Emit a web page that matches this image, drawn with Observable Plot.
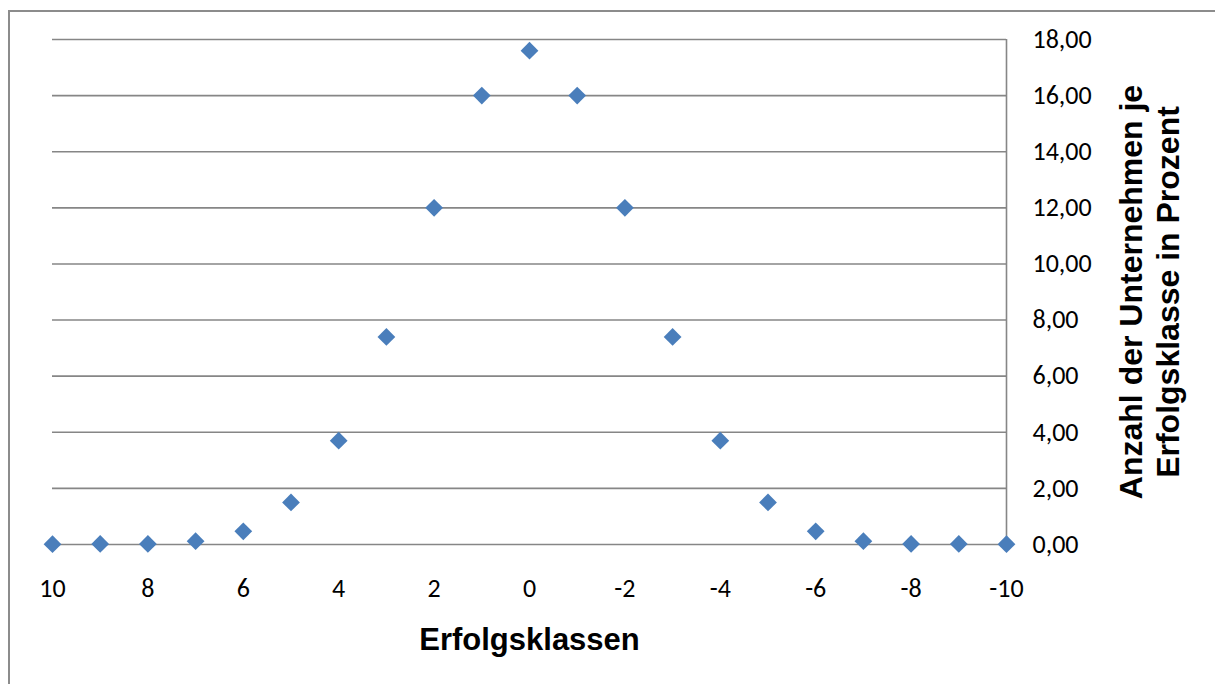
<!DOCTYPE html>
<html>
<head>
<meta charset="utf-8">
<script src="https://cdn.jsdelivr.net/npm/d3@7"></script>
<script src="https://cdn.jsdelivr.net/npm/@observablehq/plot@0.6"></script>
<style>
  html, body { margin: 0; padding: 0; background: #fff; }
  #wrap { position: relative; width: 1215px; height: 684px; overflow: hidden; }
  #frame { position: absolute; left: 8px; top: 10px; width: 1300px; height: 800px;
           border-left: 2px solid #8c8c8c; border-top: 2px solid #8c8c8c; }
  #chart { position: absolute; left: 0; top: 0; }
</style>
</head>
<body>
<div id="wrap"><div id="frame"></div><div id="chart"></div></div>
<script>
const classes = [10, 9, 8, 7, 6, 5, 4, 3, 2, 1, 0, -1, -2, -3, -4, -5, -6, -7, -8, -9, -10];
const shares  = [0.01, 0.02, 0.02, 0.12, 0.47, 1.5, 3.7, 7.4, 12.0, 16.0, 17.6, 16.0, 12.0, 7.4, 3.7, 1.5, 0.47, 0.12, 0.02, 0.02, 0.01];
const xTicks = [10, 8, 6, 4, 2, 0, -2, -4, -6, -8, -10];
const yTicks = [0, 2, 4, 6, 8, 10, 12, 14, 16, 18];
const xTitle = "Erfolgsklassen";
const yTitle = "Anzahl der Unternehmen je\nErfolgsklasse in Prozent";

const data = classes.map((c, i) => ({klasse: c, anteil: shares[i]}));
const gridColor = "#868686";
const labelFont = "Carlito, Calibri, Lato, sans-serif";
const titleFont = "'Liberation Sans', Arial, sans-serif";

const chart = Plot.plot({
  width: 1215,
  height: 684,
  marginLeft: 52,
  marginRight: 209,
  marginTop: 39,
  marginBottom: 140,
  style: {background: "transparent", color: "#000"},
  x: {domain: [10, -10]},
  y: {domain: [0, 18]},
  marks: [
    Plot.gridY(yTicks.filter(d => d > 0), {stroke: gridColor, strokeOpacity: 1, strokeWidth: 1.6}),
    Plot.ruleY([0], {stroke: gridColor, strokeWidth: 1.6}),
    Plot.ruleX([-10], {stroke: gridColor, strokeWidth: 1.6}),
    Plot.axisX({ticks: xTicks, tickSize: 0, tickPadding: 34, fontSize: 26, fontFamily: labelFont, label: null, tickFormat: d => String(d)}),
    Plot.axisY({anchor: "right", ticks: yTicks, tickSize: 0, tickPadding: 26, fontSize: 26, fontFamily: labelFont, label: null,
                textAnchor: "start", tickFormat: d => d.toFixed(2).replace(".", ",")}),
    Plot.dot(data, {x: "klasse", y: "anteil", symbol: "diamond2", r: 8, fill: "#4a7ebb", stroke: "none"}),
    Plot.text([xTitle], {frameAnchor: "bottom", lineAnchor: "middle", dy: 96, fontSize: 31, fontWeight: "bold", fontFamily: titleFont, fill: "#000"}),
    Plot.text([yTitle], {frameAnchor: "right", textAnchor: "middle", lineAnchor: "middle", dx: 142, rotate: -90, fontSize: 32, fontWeight: "bold", fontFamily: titleFont, lineHeight: 1.15, fill: "#000"})
  ]
});
document.getElementById("chart").appendChild(chart);
</script>
</body>
</html>
